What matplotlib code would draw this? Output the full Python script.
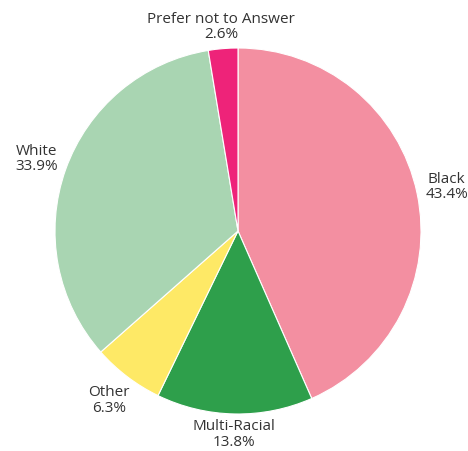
import numpy as np
import matplotlib.pyplot as plt

# race / ethnicity breakdown
labels = ['Black', 'Multi-Racial', 'Other', 'White', 'Prefer not to Answer']
values = [43.4, 13.8, 6.3, 33.9, 2.6]
colors = ['#F38FA1', '#2E9F4B', '#FEE966', '#A9D5B2', '#EE2379']

fig = plt.figure(figsize=(4.68, 4.52), dpi=100)
ax = fig.add_axes([0, 0, 1, 1])

cx, cy, r = 238, 220, 183
wedges, _ = ax.pie(values, colors=colors, startangle=90, counterclock=False,
                   center=(cx, cy), radius=r, frame=True,
                   wedgeprops=dict(edgecolor='white', linewidth=0.8))
ax.set_xlim(0, 468)
ax.set_ylim(0, 452)
ax.set_aspect('equal')
ax.axis('off')

for w, lab, v in zip(wedges, labels, values):
    ang = np.deg2rad((w.theta1 + w.theta2) / 2)
    c, s = np.cos(ang), np.sin(ang)
    d = r + 7 + 21 * abs(c) + 13 * abs(s)
    ax.text(cx + d * c, cy + d * s + 1, f'{lab}\n{v}%', ha='center', va='center',
            multialignment='center', fontsize=11, color='#333333',
            family=['Open Sans', 'DejaVu Sans'], linespacing=1.05)

fig.savefig('out.png', dpi=100)
